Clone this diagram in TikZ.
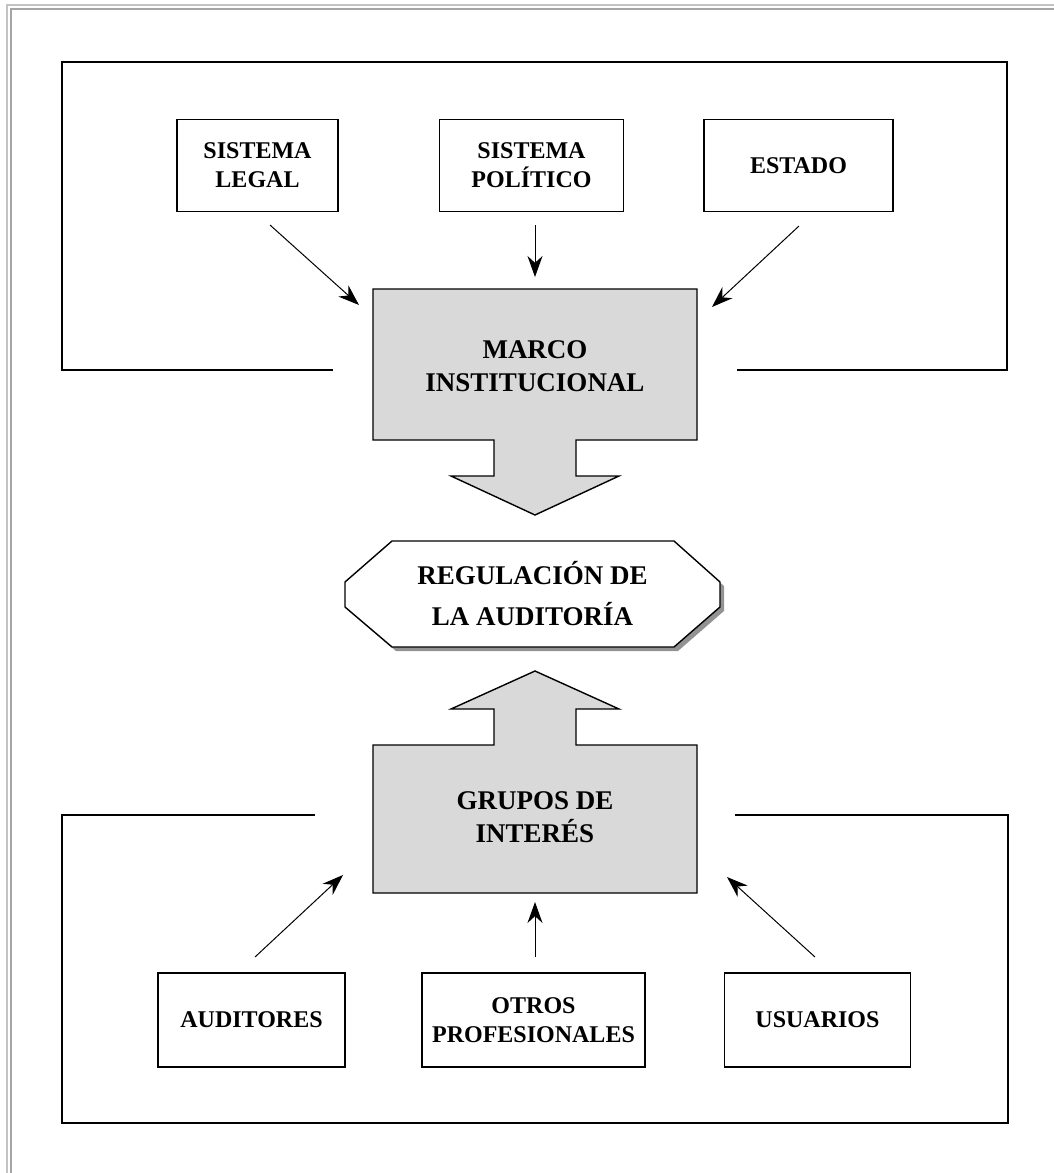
\documentclass[tikz,border=0pt]{standalone}
\usepackage{fontspec}
\setmainfont{Liberation Serif}
\usetikzlibrary{arrows.meta,shadows}
\definecolor{boxgray}{RGB}{217,217,217}
\definecolor{framegray}{RGB}{165,165,165}
\definecolor{framelight}{RGB}{195,195,195}

\begin{document}
\begin{tikzpicture}[x=0.5pt, y=-0.5pt,
node distance=137pt,
box/.style={rectangle, draw=black, line width=0.8pt, minimum height=46pt, align=center, font=\fontsize{12}{14.5}\selectfont\bfseries},
bigtext/.style={align=center, font=\fontsize{13.5}{16.5}\selectfont\bfseries},
octotext/.style={align=center, font=\fontsize{13.5}{20.5}\selectfont\bfseries},
block/.style={draw=black, line width=0.7pt, fill=boxgray},
octo/.style={draw=black, line width=0.7pt, fill=white, drop shadow={shadow xshift=2pt, shadow yshift=-2pt, fill=gray!85, opacity=1}},
frame/.style={draw=black, line width=0.7pt},
link/.style={-{Stealth[length=10.5pt,width=7.5pt]}, line width=0.5pt}
]
\useasboundingbox (0,0) rectangle (1054,1173);
%Page frame
\draw[framelight, line width=0.6pt] (7,1173) -- (7,5) -- (1054,5);
\draw[framegray, line width=1pt] (11,1173) -- (11,9) -- (1054,9);
%Frames
\draw[frame] (333,370) -- (62,370) -- (62,62) -- (1007,62) -- (1007,370) -- (737,370);
\draw[frame] (315,815) -- (62,815) -- (62,1123) -- (1008,1123) -- (1008,815) -- (735,815);
%Block arrows
\draw[block] (373,289) -- (697,289) -- (697,440) -- (576,440) -- (576,476) -- (619,476) -- (535,515) -- (451,476) -- (494,476) -- (494,440) -- (373,440) -- cycle;
\draw[block] (373,893) -- (697,893) -- (697,745) -- (576,745) -- (576,709) -- (619,709) -- (535,671) -- (451,709) -- (494,709) -- (494,745) -- (373,745) -- cycle;
%Octagon
\draw[octo] (392,541) -- (674,541) -- (720,582) -- (720,607) -- (674,647) -- (392,647) -- (345,607) -- (345,582) -- cycle;
%Nodes
\node[box, minimum width=80.5pt]   (legal)     at (257.5,165.5)                 {SISTEMA\\LEGAL};
\node[box, minimum width=92pt]     (politico)  [right of=legal]                 {SISTEMA\\POLÍTICO};
\node[box, minimum width=94.5pt]   (estado)    [right of=politico, xshift=-3.5pt] {ESTADO};
\node[bigtext]                     (marco)     at (535,366)                     {MARCO\\INSTITUCIONAL};
\node[octotext]                    (regulacion) at (532.5,594)                  {REGULACIÓN DE\\LA AUDITORÍA};
\node[bigtext]                     (grupos)    at (535,817)                     {GRUPOS DE\\INTERÉS};
\node[box, minimum width=93.5pt, minimum height=47pt] (auditores) at (251.5,1020) {AUDITORES};
\node[box, minimum width=111.5pt, minimum height=47pt] (otros) [right of=auditores, xshift=4pt] {OTROS\\PROFESIONALES};
\node[box, minimum width=93pt, minimum height=47pt] (usuarios) [right of=otros, xshift=5pt] {USUARIOS};
%Arrow ends
\coordinate (legal-out)     at (270,225);
\coordinate (legal-in)      at (359,305);
\coordinate (politico-out)  at (535,225);
\coordinate (politico-in)   at (535,277);
\coordinate (estado-out)    at (799,226);
\coordinate (estado-in)     at (712,307);
\coordinate (auditores-out) at (255,957);
\coordinate (auditores-in)  at (343,875);
\coordinate (otros-out)     at (535,957);
\coordinate (otros-in)      at (535,902);
\coordinate (usuarios-out)  at (815,957);
\coordinate (usuarios-in)   at (727,877);
%Lines
\draw[link] (legal-out) -- (legal-in);
\draw[link] (politico-out) -- (politico-in);
\draw[link] (estado-out) -- (estado-in);
\draw[link] (auditores-out) -- (auditores-in);
\draw[link] (otros-out) -- (otros-in);
\draw[link] (usuarios-out) -- (usuarios-in);
\end{tikzpicture}
\end{document}
